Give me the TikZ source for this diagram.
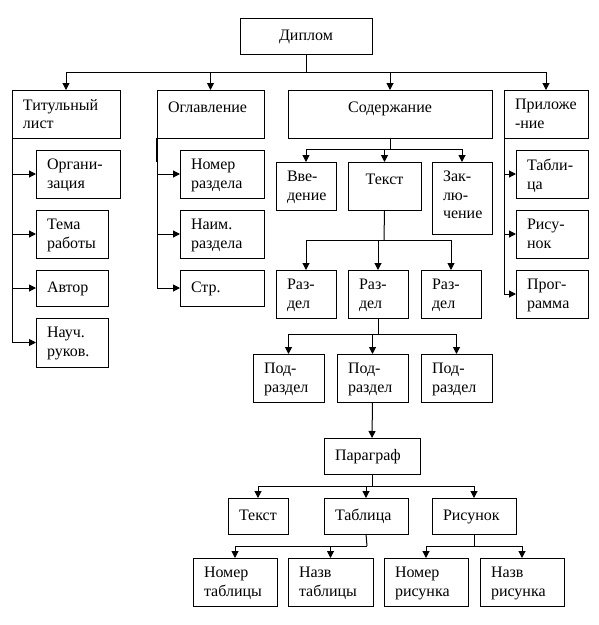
\documentclass[tikz,border=0pt]{standalone}
\usepackage{fontspec}
\setmainfont{Liberation Serif}
\usetikzlibrary{arrows.meta,calc}
\tikzset{
  box/.style={draw, line width=1pt, inner sep=0pt, outer sep=0pt, rectangle, fill=white},
  txt/.style={inner sep=0pt, outer sep=0pt, align=left, font=\fontsize{16}{18.5}\selectfont, execute at begin node=\strut},
  ln/.style={line width=1pt},
  arr/.style={line width=1pt, -{Triangle[length=7pt,width=7pt]}},
}
\newcommand\bxl[6]{%
  \node[box, minimum width={(#4)-(#2)}, minimum height={(#5)-(#3)}, anchor=north west] (#1) at (#2,#3) {};
  \node[txt, anchor=north west] (#1t) at ([shift={(11,9.2)}]#1.north west) {#6};}
\newcommand\bxc[6]{%
  \node[box, minimum width={(#4)-(#2)}, minimum height={(#5)-(#3)}, anchor=north west] (#1) at (#2,#3) {};
  \node[txt, anchor=north] (#1t) at ([shift={(0,9.2)}]#1.north) {#6};}
\begin{document}
\begin{tikzpicture}[x=1pt,y=-1pt]
\useasboundingbox[fill=white] (0,0) rectangle (599,625);
% top
\bxc{dip}{240}{18}{372}{54}{Диплом}
\bxl{tit}{12}{90}{120}{138}{Титульный\\лист}
\bxl{ogl}{157}{90}{264}{138}{Оглавление}
\bxc{sod}{288}{90}{492}{138}{Содержание}
\bxl{pril}{504}{90}{588}{138}{Приложе\\-ние}
% title page column
\bxl{org}{36}{150}{120}{198}{Органи-\\зация}
\bxl{tema}{36}{210}{108}{258}{Тема\\работы}
\bxl{avt}{36}{270}{108}{306}{Автор}
\bxl{nauch}{36}{318}{108}{367}{Науч.\\руков.}
% contents column
\bxl{nomr}{180}{150}{264}{198}{Номер\\раздела}
\bxl{naim}{180}{210}{264}{258}{Наим.\\раздела}
\bxl{str}{180}{270}{264}{306}{Стр.}
% appendix column
\bxl{ptab}{516}{150}{588}{198}{Табли-\\ца}
\bxl{pris}{516}{210}{588}{258}{Рису-\\нок}
\bxl{pprog}{516}{270}{588}{318}{Прог-\\рамма}
% content children
\bxl{vved}{276}{162}{336}{210}{Вве-\\дение}
\bxc{text}{348}{162}{421}{210}{Текст}
\bxl{zakl}{432}{162}{492}{234}{Зак-\\лю-\\чение}
% sections
\bxl{raz1}{276}{270}{336}{318}{Раз-\\дел}
\bxl{raz2}{348}{270}{408}{318}{Раз-\\дел}
\bxl{raz3}{421}{270}{481}{318}{Раз-\\дел}
% subsections
\bxl{pod1}{253}{354}{324}{402}{Под-\\раздел}
\bxl{pod2}{337}{354}{408}{402}{Под-\\раздел}
\bxl{pod3}{421}{354}{492}{402}{Под-\\раздел}
% paragraph
\bxl{par}{324}{438}{420}{474}{Параграф}
\bxl{btext}{228}{498}{288}{534}{Текст}
\bxl{btab}{324}{498}{408}{534}{Таблица}
\bxl{bris}{432}{498}{516}{534}{Рисунок}
\bxl{ntab}{193}{558}{277}{606}{Номер\\таблицы}
\bxl{nztab}{288}{558}{373}{606}{Назв\\таблицы}
\bxl{nris}{384}{558}{468}{606}{Номер\\рисунка}
\bxl{nzris}{480}{558}{564}{606}{Назв\\рисунка}
% junctions
\coordinate (j1) at (306,72);
\coordinate (j2) at (390,149);
\coordinate (j3) at (384,240);
\coordinate (j4) at (378,334);
\coordinate (j5) at (372,486);
\coordinate (j6) at (367,546);
\coordinate (j7) at (474,546);
% Diploma -> top level
\draw[ln] (dip.south) -- (j1);
\draw[arr] (j1) -| (tit.north);
\draw[arr] (j1) -| (ogl.north);
\draw[arr] (j1) -| (sod.north);
\draw[arr] (j1) -| (pril.north);
% title page
\draw[arr] (tit.south west) |- (nauch.west);
\draw[arr] (tit.south west |- org.west) -- (org.west);
\draw[arr] (tit.south west |- tema.west) -- (tema.west);
\draw[arr] (tit.south west |- avt.west) -- (avt.west);
% contents (table of contents)
\draw[arr] (ogl.south west) |- (str.west);
\draw[arr] (ogl.south west |- nomr.west) -- (nomr.west);
\draw[arr] (ogl.south west |- naim.west) -- (naim.west);
\draw[line width=2pt] ([yshift=-24]ogl.south west) -- (ogl.south west);
% appendix
\draw[arr] (pril.south west) |- (pprog.west);
\draw[arr] (pril.south west |- ptab.west) -- (ptab.west);
\draw[arr] (pril.south west |- pris.west) -- (pris.west);
% content
\draw[ln] (sod.south) -- (j2);
\draw[arr] (j2) -| (vved.north);
\draw[arr] (j2) -| (text.north);
\draw[arr] (j2) -| (zakl.north);
% text -> sections
\draw[ln] (text.south) -- (j3);
\draw[arr] (j3) -| (raz1.north);
\draw[arr] (j3) -| (raz2.north);
\draw[arr] (j3) -| (raz3.north);
% section -> subsections
\draw[ln] (raz2.south) -- (j4);
\draw[arr] (j4) -| (pod1.north);
\draw[arr] (j4) -| (pod2.north);
\draw[arr] (j4) -| (pod3.north);
% subsection -> paragraph
\draw[arr] (pod2.south) -- (par.north);
% paragraph -> children
\draw[ln] (par.south) -- (j5);
\draw[arr] (j5) -| (btext.north);
\draw[arr] (j5) -| (btab.north);
\draw[arr] (j5) -| (bris.north);
% table
\draw[ln] (btab.south) -- (j6);
\draw[arr] (j6) -| (ntab.north);
\draw[arr] (j6) -| (nztab.north);
% figure
\draw[ln] (bris.south) -- (j7);
\draw[arr] (j7) -| (nris.north);
\draw[arr] (j7) -| (nzris.north);
\end{tikzpicture}
\end{document}
